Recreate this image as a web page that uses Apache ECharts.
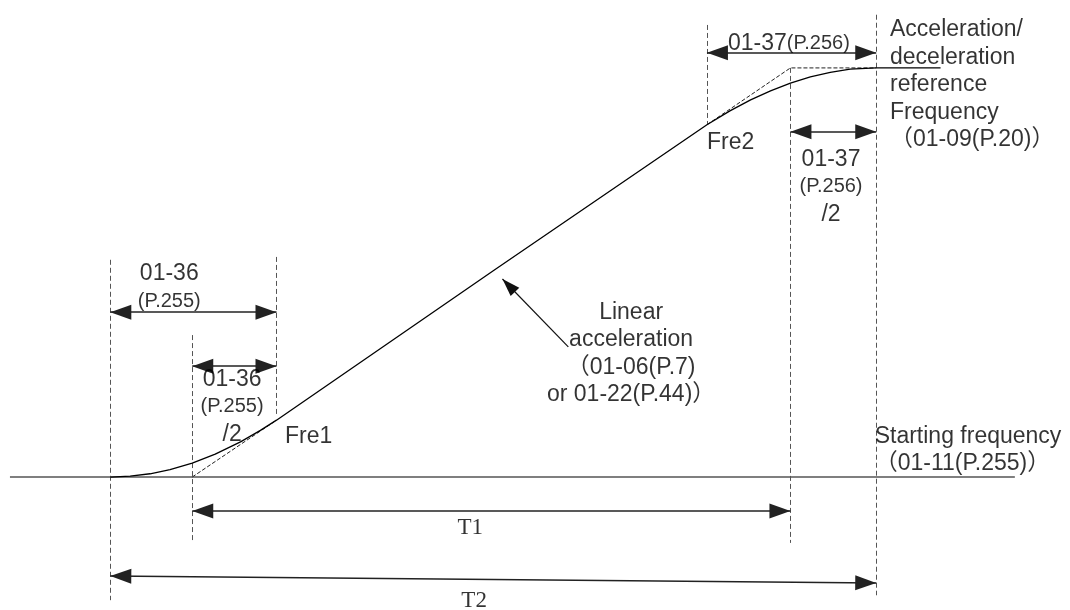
<!DOCTYPE html>
<html>
<head>
<meta charset="utf-8">
<script src="https://cdn.jsdelivr.net/npm/echarts@6/dist/echarts.min.js"></script>
<style>
  html, body { margin: 0; padding: 0; background: #fff; }
  #chart { width: 1070px; height: 610px; }
</style>
</head>
<body>
<div id="chart"></div>
<script>
// time axis: 0 = start of S-curve, 100 = end (T2); freq axis: 0 = starting freq, 100 = reference freq
const curveT = [0, 2.6, 5.2, 7.8, 10.7, 13.7, 17.0, 19.6, 21.7, 50.0, 77.9, 80.9, 83.6, 86.2, 88.8, 91.4, 94.0, 96.6, 100, 108.4];
const curveF = [0, 0.2, 0.8, 1.8, 3.4, 5.6, 8.6, 11.4, 13.9, 50.4, 86.1, 89.5, 92.2, 94.4, 96.3, 97.8, 98.9, 99.7, 100, 100];

// linear ramp extensions (dashed)
const rampLowT = [10.7, 21.7];
const rampLowF = [0, 13.9];
const rampTopT = [77.9, 88.8, 100];
const rampTopF = [86.1, 100, 100];

// starting frequency line
const baseT = [-13.1, 118.1];
const baseF = [0, 0];

// vertical dashed guides
const guideT = [0, 10.7, 21.7, 77.9, 88.8, 100];
const guideTop = [53.1, 34.7, 53.8, 110.5, 100, 113];
const guideBottom = [-30.1, -16.1, 15.2, 86.3, -16.1, -28.9];

// double arrows: 01-36, 01-36/2, 01-37, 01-37/2, T1, T2
const spanFrom = [0, 10.7, 77.9, 88.8, 10.7, 0];
const spanTo = [21.7, 21.7, 100, 100, 88.8, 100];
const spanLevelFrom = [40.3, 27.1, 103.7, 84.4, -8.3, -24.2];
const spanLevelTo = [40.3, 27.1, 103.7, 84.4, -8.3, -25.9];

// pointer to linear part
const pointerFrom = [59.8, 31.8];
const pointerTo = [51.2, 48.4];

// notes
const centerNotes = [
  ['{a|01-36}\n{b|(P.255)}', 7.7, 46.3],
  ['{a|01-36}\n{b|(P.255)}\n{a|/2}', 15.9, 17.2],
  ['{a|01-37}{b|(P.256)}', 88.6, 105.9],
  ['{a|01-37}\n{b|(P.256)}\n{a|/2}', 94.1, 70.9],
  ['Linear\nacceleration\n（01-06(P.7)\nor 01-22(P.44)）', 68.0, 30.1]
];
const leftNotes = [
  ['Acceleration/\ndeceleration\nreference\nFrequency\n（01-09(P.20)）', 101.8, 95.8],
  ['Fre2', 77.9, 81.7],
  ['Fre1', 22.8, 9.8],
  ['Starting frequency\n（01-11(P.255)）', 99.8, 6.6]
];
const timeNotes = [
  ['T1', 47.0, -12.5],
  ['T2', 47.5, -30.3]
];

const sans = 'Arial, "Liberation Sans", "Noto Sans CJK SC", sans-serif';
const zip = (a, b) => a.map((v, i) => [v, b[i]]);

// arrow head whose tip sits in the middle of its box, so it ends right at the line end
const head = 'path://M0,19L6.5,38L-6.5,38ZM0,0';

const chart = echarts.init(document.getElementById('chart'));

const noteSeries = (name, notes, align, font) => ({
  name,
  type: 'scatter',
  symbolSize: 1,
  silent: true,
  itemStyle: { color: 'rgba(0,0,0,0)' },
  data: notes.map(n => ({ value: [n[1], n[2]], name: n[0] })),
  label: {
    show: true,
    position: 'inside',
    align,
    verticalAlign: 'middle',
    formatter: p => p.name,
    color: '#000',
    fontFamily: font,
    fontSize: 23,
    lineHeight: 27.5,
    rich: {
      a: { fontSize: 23, lineHeight: 27.5, fontFamily: sans, color: '#000' },
      b: { fontSize: 20, lineHeight: 27.5, fontFamily: sans, color: '#000' }
    }
  }
});

const option = {
  animation: false,
  backgroundColor: '#fff',
  grid: { left: 0, right: 0, top: 0, bottom: 0 },
  xAxis: { type: 'value', min: -14.4, max: 125.3, show: false },
  yAxis: { type: 'value', min: -32.5, max: 116.6, show: false },
  series: [
    {
      type: 'line',
      data: zip(baseT, baseF),
      showSymbol: false,
      lineStyle: { color: '#555', width: 1.6 }
    },
    {
      type: 'lines',
      coordinateSystem: 'cartesian2d',
      data: guideT.map((t, i) => ({ coords: [[t, guideTop[i]], [t, guideBottom[i]]] })),
      symbol: 'none',
      lineStyle: { color: '#555', width: 1, type: [5, 3], opacity: 1 }
    },
    {
      type: 'line',
      data: zip(rampLowT, rampLowF),
      showSymbol: false,
      lineStyle: { color: '#222', width: 1, type: [4, 2] }
    },
    {
      type: 'line',
      data: zip(rampTopT, rampTopF),
      showSymbol: false,
      lineStyle: { color: '#222', width: 1, type: [4, 2] }
    },
    {
      type: 'line',
      data: zip(curveT, curveF),
      showSymbol: false,
      lineStyle: { color: '#000', width: 1.3 }
    },
    {
      type: 'lines',
      coordinateSystem: 'cartesian2d',
      data: spanFrom.map((t, i) => ({ coords: [[t, spanLevelFrom[i]], [spanTo[i], spanLevelTo[i]]] })),
      symbol: [head, head],
      symbolSize: [[15, 42], [15, 42]],
      lineStyle: { color: '#222', width: 1.6, opacity: 1 }
    },
    {
      type: 'lines',
      coordinateSystem: 'cartesian2d',
      data: [{ coords: [pointerFrom, pointerTo] }],
      symbol: ['none', head],
      symbolSize: [[12, 36], [12, 36]],
      lineStyle: { color: '#111', width: 1.2, opacity: 1 }
    },
    noteSeries('center', centerNotes, 'center', sans),
    noteSeries('left', leftNotes, 'left', sans),
    noteSeries('time', timeNotes, 'center', '"Liberation Serif", "Times New Roman", serif')
  ]
};

chart.setOption(option);
window.addEventListener('resize', () => chart.resize());
</script>
</body>
</html>
